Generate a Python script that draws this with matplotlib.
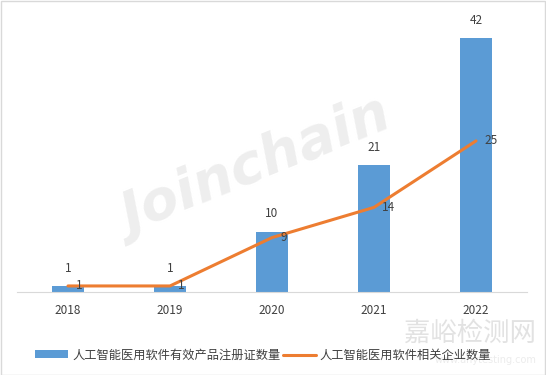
import matplotlib.pyplot as plt
from matplotlib.patches import Rectangle

plt.rcParams['font.family'] = ['Noto Sans CJK SC', 'DejaVu Sans']

years = ["2018", "2019", "2020", "2021", "2022"]
certs = [1, 1, 10, 21, 42]       # 人工智能医用软件有效产品注册证数量
companies = [1, 1, 9, 14, 25]    # 人工智能医用软件相关企业数量

bar_color = "#5b9bd5"
line_color = "#ed7d31"
text_color = "#404040"

fig = plt.figure(figsize=(5.46, 3.75), dpi=100)

# watermarks (behind everything)
fig.text(0.47, 0.55, "Joinchain", fontsize=40, fontweight="bold", style="italic",
         color="#eeeeee", rotation=22, ha="center", va="center", zorder=0,
         family="DejaVu Sans")
fig.text(0.86, 0.112, "嘉峪检测网", fontsize=19, color="#e2e2e2",
         ha="center", va="center", zorder=0)
fig.text(0.89, 0.04, "www.anytesting.com", fontsize=7, color="#ececec",
         ha="center", va="center", zorder=0, family="DejaVu Sans")

ax = fig.add_axes([17 / 546, 1 - 292 / 375, 510 / 546, 272 / 375])
ax.patch.set_alpha(0)

x = list(range(len(years)))
bars = ax.bar(x, certs, width=0.31, color=bar_color, zorder=2)
line, = ax.plot(x, companies, color=line_color, lw=2.2, zorder=3,
                solid_capstyle="round")

for xi, v in zip(x, certs):
    ax.annotate(str(v), (xi, v), xytext=(0, 8), textcoords="offset points",
                ha="center", va="bottom", fontsize=8.5, color=text_color)
for xi, v in zip(x, companies):
    ax.annotate(str(v), (xi, v), xytext=(6, 0), textcoords="offset points",
                ha="left", va="center", fontsize=8.5, color=text_color)

ax.set_xlim(-0.5, 4.5)
ax.set_ylim(0, 45)
ax.set_xticks(x)
ax.set_xticklabels(years, fontsize=8.5, color=text_color)
ax.set_yticks([])
ax.tick_params(axis="x", length=0, pad=9)
for s in ["top", "right", "left"]:
    ax.spines[s].set_visible(False)
ax.spines["bottom"].set_color("#d9d9d9")

fig.legend([bars, line],
           ["人工智能医用软件有效产品注册证数量", "人工智能医用软件相关企业数量"],
           loc="center", bbox_to_anchor=(0.482, 0.053), ncol=2, frameon=False,
           fontsize=8.8, handlelength=2.7, handleheight=0.6, columnspacing=0.2,
           handletextpad=0.3, labelcolor=text_color)

fig.patches.append(Rectangle((0.001, 0.001), 0.997, 0.997, transform=fig.transFigure,
                             fill=False, edgecolor="#d9d9d9", lw=1))

fig.savefig("out.png", dpi=100)
